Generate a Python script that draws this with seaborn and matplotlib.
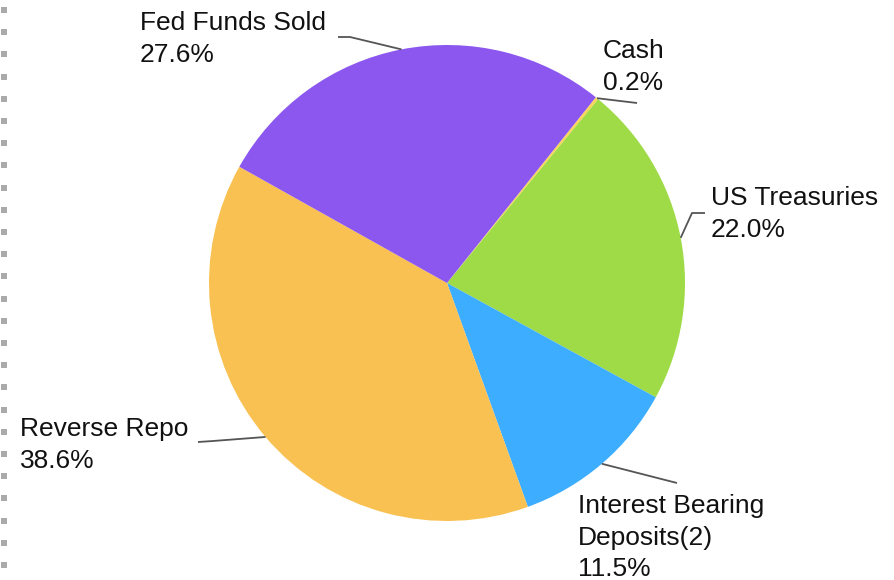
import numpy as np
import matplotlib
matplotlib.use("Agg")
import matplotlib.pyplot as plt
import seaborn as sns

categories = ["Cash", "US Treasuries", "Interest Bearing\nDeposits(2)", "Reverse Repo", "Fed Funds Sold"]
values = [0.2, 22.0, 11.5, 38.6, 27.6]
colors = ["#FCD55A", "#9FDB47", "#3DADFF", "#F9C152", "#8B57EE"]

sns.set_theme(style="white")
plt.rcParams['font.family'] = ['Liberation Sans', 'DejaVu Sans']

W, H = 894, 580
fig = plt.figure(figsize=(W / 100, H / 100), dpi=100)
ax = fig.add_axes([0, 0, 1, 1])
ax.set_xlim(0, W)
ax.set_ylim(0, H)
ax.set_aspect("equal")
ax.axis("off")

cx, cy, r = 447, H - 283, 238
wedges, _ = ax.pie(values, colors=colors, startangle=51.3, counterclock=False,
                   center=(cx, cy), radius=r, frame=True,
                   wedgeprops=dict(linewidth=0))
ax.set_xlim(0, W)
ax.set_ylim(0, H)
ax.axis("off")

# label layout (pixel coords, y from top): text anchor, leader polyline (after edge point)
layout = [
    ((603, 39), [(637, 103)]),
    ((711, 186), [(692, 213), (705, 213)]),
    ((578, 494), [(677, 483)]),
    ((20, 417), [(213, 441), (198, 442)]),
    ((140, 11), [(350, 37), (338, 37)]),
]

for w, cat, val, (tpos, pts) in zip(wedges, categories, values, layout):
    ang = np.deg2rad((w.theta1 + w.theta2) / 2)
    ex, ey = cx + r * np.cos(ang), cy + r * np.sin(ang)
    xs = [ex] + [p[0] for p in pts]
    ys = [ey] + [H - p[1] for p in pts]
    ax.plot(xs, ys, color="#555555", lw=1.3, solid_capstyle="butt")
    ax.text(tpos[0], H - tpos[1], f"{cat}\n{val:.1f}%", fontsize=19,
            color="#111111", ha="left", va="top", linespacing=1.4)

# dotted border on the left
ys_dots = np.arange(H - 10, 0, -22.2)
ax.scatter(np.full_like(ys_dots, 3.5), ys_dots, marker="s", s=14, color="#AAAAAA",
           linewidths=0)

fig.savefig("out.png", dpi=100)
